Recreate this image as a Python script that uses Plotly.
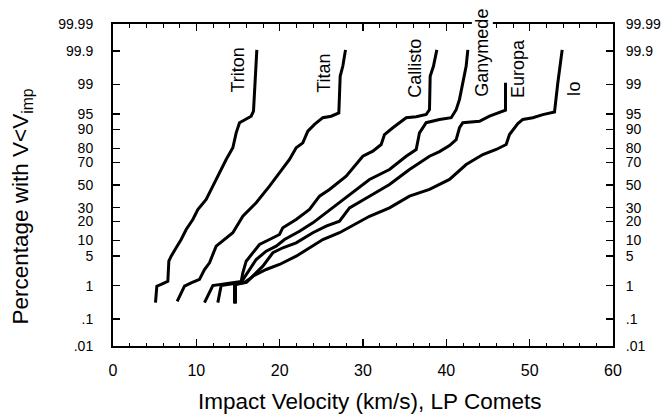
import plotly.graph_objects as go
from statistics import NormalDist

# ---------------- data (velocity km/s, cumulative percentage) ----------------
moons = ["Triton", "Titan", "Callisto", "Ganymede", "Europa", "Io"]

triton_v = [5.10, 5.26, 5.78, 6.58, 6.70, 6.98, 7.58, 8.18, 8.78, 9.58, 10.18, 11.18,
            11.98, 12.78, 13.58, 14.38, 14.78, 15.18, 15.98, 16.58, 16.86, 16.98, 17.18, 17.26]
triton_p = [0.33, 0.97, 1.08, 1.31, 3.92, 5.0, 7.35, 10.4, 15.2, 21.3, 28.6, 36.9,
            48.9, 61.1, 72.2, 80.5, 88.6, 92.5, 93.5, 94.4, 95.6, 98.63, 99.70, 99.91]

titan_v = [7.70, 8.58, 9.38, 10.38, 10.98, 11.58, 12.38, 13.38, 14.38, 15.58, 17.18, 18.78,
           19.98, 21.18, 21.98, 22.78, 23.38, 24.18, 25.18, 26.18, 27.10, 27.18, 27.26, 27.58, 27.90]
titan_p = [0.36, 0.97, 1.19, 1.46, 2.55, 3.62, 7.88, 10.4, 13.5, 23.5, 34.1, 48.9,
           61.1, 72.2, 80.5, 83.5, 89.3, 91.9, 94.0, 94.4, 95.2, 98.34, 99.40, 99.70, 99.91]

callisto_v = [10.98, 11.98, 15.38, 15.58, 15.98, 16.78, 17.58, 18.78, 19.98, 20.38, 21.98, 23.58,
              24.78, 25.98, 27.98, 29.98, 31.18, 32.18, 32.58, 33.58, 34.58, 35.18, 36.38, 37.58,
              37.98, 38.06, 38.46, 38.86]
callisto_p = [0.33, 1.01, 1.29, 2.13, 3.92, 5.87, 8.47, 10.4, 12.65, 16.2, 21.3, 28.6,
              39.8, 45.9, 58.0, 74.7, 78.3, 82.5, 87.8, 90.7, 92.96, 93.97, 94.24, 94.82,
              95.94, 99.40, 99.70, 99.91]

ganymede_v = [12.58, 12.98, 15.38, 16.38, 17.18, 18.38, 19.58, 20.58, 22.38, 23.98, 25.58, 27.18,
              28.38, 30.78, 33.18, 35.18, 36.38, 36.78, 37.58, 39.18, 40.58, 41.18, 41.58, 41.98,
              42.38, 42.58]
ganymede_p = [0.33, 1.01, 1.22, 2.55, 4.26, 6.31, 7.88, 10.4, 14.3, 19.1, 26.0, 34.1,
              41.3, 55.1, 64.0, 74.7, 79.4, 88.6, 92.5, 93.5, 94.0, 95.9, 97.6, 99.09,
              99.70, 99.91]

europa_v = [14.58, 14.58, 15.78, 16.58, 17.98, 19.18, 20.38, 21.98, 23.98, 25.58, 27.18, 28.38,
            30.78, 33.18, 35.58, 37.98, 39.18, 40.38, 41.18, 41.58, 41.98, 43.98, 45.18, 46.38,
            47.10, 47.10]
europa_p = [0.31, 1.08, 1.22, 1.61, 3.04, 5.87, 7.35, 9.1, 13.5, 17.1, 20.2, 29.9,
            39.8, 50.5, 64.0, 74.7, 78.0, 81.9, 85.3, 90.7, 92.5, 92.96, 94.4, 95.2,
            95.8, 99.09]

io_v = [14.70, 14.70, 16.02, 16.78, 18.38, 19.98, 21.98, 23.58, 25.18, 27.18, 30.78, 33.18,
        35.58, 37.98, 40.38, 42.38, 44.38, 45.98, 47.18, 47.58, 48.58, 49.18, 50.38, 51.58,
        52.98, 53.38, 53.90]
io_p = [0.31, 1.08, 1.22, 1.76, 2.55, 3.32, 5.0, 7.35, 10.4, 13.5, 23.5, 29.9,
        39.8, 45.9, 55.1, 68.2, 75.9, 79.4, 82.5, 87.8, 92.2, 93.5, 94.0, 94.8,
        95.4, 99.09, 99.91]

tick_pct = [0.01, 0.1, 1, 5, 10, 20, 30, 50, 70, 80, 90, 95, 99, 99.9, 99.99]
tick_text = [".01", ".1", "1", "5", "10", "20", "30", "50", "70", "80", "90", "95", "99", "99.9", "99.99"]
x_ticks = [0, 10, 20, 30, 40, 50, 60]

series_v = [triton_v, titan_v, callisto_v, ganymede_v, europa_v, io_v]
series_p = [triton_p, titan_p, callisto_p, ganymede_p, europa_p, io_p]

# ---------------- probability (normal quantile) scale ----------------
ND = NormalDist()


def probit(p):
    return ND.inv_cdf(p / 100.0)


ymin, ymax = probit(0.01), probit(99.99)
tick_z = [probit(p) for p in tick_pct]

FONT = "Liberation Sans, Arial, Helvetica, sans-serif"

fig = go.Figure()
for name, v, p in zip(moons, series_v, series_p):
    fig.add_trace(go.Scatter(x=v, y=[probit(q) for q in p], mode="lines", name=name,
                             line=dict(color="black", width=3), showlegend=False))
# invisible copy to activate the right-hand axis
fig.add_trace(go.Scatter(x=triton_v, y=[probit(q) for q in triton_p], yaxis="y2",
                         mode="lines", line=dict(width=0), opacity=0,
                         showlegend=False, hoverinfo="skip"))

# curve labels (rotated), positions in layout space
label_pos = {"Triton": (14.98, 0.858), "Titan": (25.22, 0.846), "Callisto": (36.28, 0.862),
             "Ganymede": (44.28, 0.911), "Europa": (48.66, 0.862), "Io": (55.38, 0.798)}
for name in moons:
    x, y = label_pos[name]
    kw = dict(bgcolor="white") if name == "Ganymede" else {}
    fig.add_annotation(x=x, y=y, xref="x", yref="paper", text=name, textangle=-90,
                       showarrow=False, xanchor="center", yanchor="middle",
                       font=dict(family=FONT, size=18, color="black"), borderpad=0, **kw)

# axis titles
fig.add_annotation(x=0.512, y=-0.172, xref="paper", yref="paper",
                   text="Impact Velocity (km/s), LP Comets", showarrow=False,
                   xanchor="center", yanchor="middle",
                   font=dict(family=FONT, size=22.5, color="black"))
fig.add_annotation(x=-0.182, y=0.433, xref="paper", yref="paper",
                   text="Percentage with V&lt;V<sub>imp</sub>", showarrow=False, textangle=-90,
                   xanchor="center", yanchor="middle",
                   font=dict(family=FONT, size=22.5, color="black"))

axis_common = dict(showline=True, linecolor="black", linewidth=2, showgrid=False, zeroline=False,
                   ticks="inside", tickcolor="black", tickwidth=1.5, automargin=False)

fig.update_layout(
    width=665, height=415,
    margin=dict(l=113, r=52, t=24, b=69),
    paper_bgcolor="white", plot_bgcolor="white",
    font=dict(family=FONT, color="black"),
    hovermode=False,
    xaxis=dict(range=[0, 60], tickmode="array", tickvals=x_ticks, ticklen=7,
               mirror="ticks", tickfont=dict(size=16), ticklabelstandoff=9,
               minor=dict(dtick=2, tick0=0, ticks="inside", ticklen=3.5, tickcolor="black", tickwidth=1),
               **axis_common),
    yaxis=dict(range=[ymin, ymax], tickmode="array", tickvals=tick_z, ticktext=tick_text,
               ticklen=7, tickfont=dict(size=14), ticklabelstandoff=15, **axis_common),
    yaxis2=dict(range=[ymin, ymax], overlaying="y", side="right", anchor="x",
                tickmode="array", tickvals=tick_z, ticktext=tick_text,
                ticklen=7, tickfont=dict(size=14), ticklabelstandoff=8, **axis_common),
)

fig.write_html("out.html", config={"displayModeBar": False, "staticPlot": True},
               post_script="document.body.style.margin='0';document.body.style.overflow='hidden';")
